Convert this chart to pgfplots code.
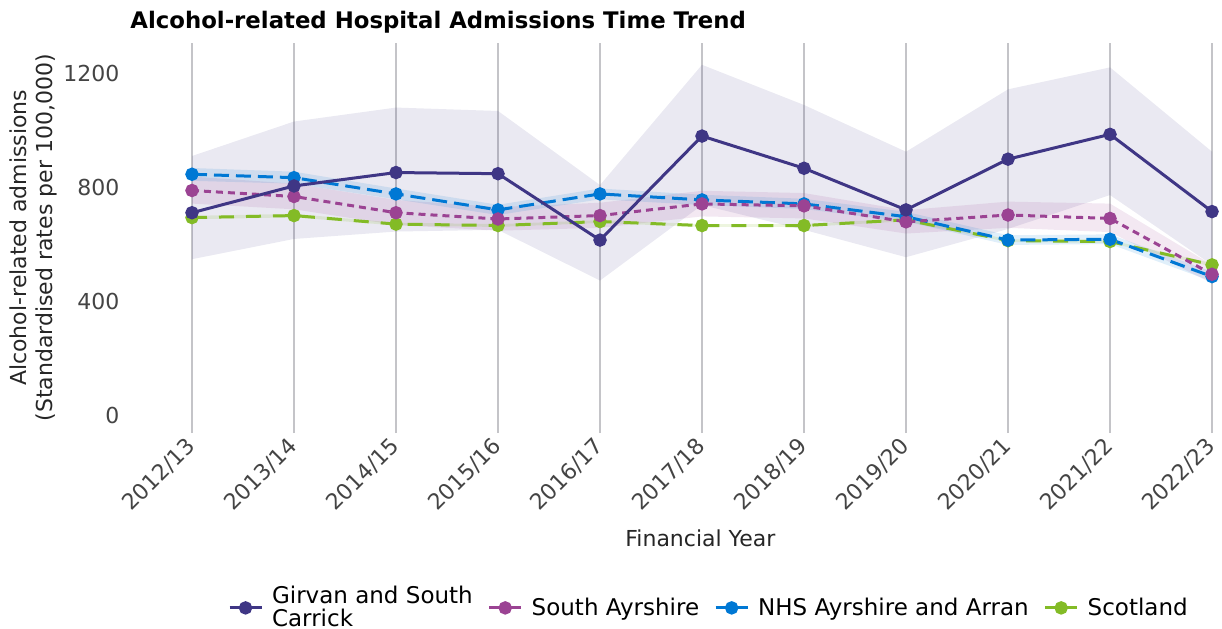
\documentclass[border=0pt]{standalone}
\usepackage{pgfplots}
\pgfplotsset{compat=1.18}
\usepackage{pgfplotstable}
\usepgfplotslibrary{fillbetween}
\usepackage{fontspec}
\setmainfont{DejaVu Sans}

\definecolor{girvan}{HTML}{3F3685}
\definecolor{southayr}{HTML}{9B4393}
\definecolor{nhsaa}{HTML}{0078D4}
\definecolor{scot}{HTML}{83BB26}
\definecolor{gridgrey}{HTML}{C4C4C8}
\definecolor{ticktext}{HTML}{444444}

% x = financial year index (0 = 2012/13), value, lower CI, upper CI
\pgfplotstableread{
x  g   glo  ghi   s   slo  shi  n   nlo  nhi  c   clo  chi
0  713 550  912   791 745  840  848 825  870  696 690  702
1  807 621  1033  770 725  815  836 815  857  703 697  709
2  854 647  1082  713 670  758  779 760  798  673 668  678
3  850 653  1070  691 650  733  723 705  741  668 663  673
4  617 475  810   703 660  748  779 760  798  682 677  687
5  982 740  1232  744 700  790  758 740  776  668 663  673
6  869 653  1091  737 693  782  744 726  762  668 663  673
7  723 557  927   681 640  722  699 682  716  688 683  693
8  901 656  1146  705 660  752  617 600  634  615 610  620
9  988 775  1223  693 645  745  620 603  637  612 607  617
10 717 530  927   497 465  530  489 472  506  530 524  536
}\admissions

\pgfplotsset{
  series/.style={line width=1.5pt, mark=*, mark size=2.6pt, mark options={solid}},
  band/.style={draw=none, mark=none, forget plot},
}

\begin{document}
\begin{tikzpicture}
\begin{axis}[
    at={(80.7pt,97.5pt)}, anchor=south west,
    scale only axis, width=529.4pt, height=195.2pt,
    xmin=-0.3, xmax=10.08, ymin=-60, ymax=1310,
    axis line style={draw=none},
    major tick length=0pt,
    xtick={0,...,10},
    xticklabels={2012/13,2013/14,2014/15,2015/16,2016/17,2017/18,2018/19,2019/20,2020/21,2021/22,2022/23},
    ytick={0,400,800,1200},
    xmajorgrids,
    grid style={color=gridgrey, line width=0.9pt},
    /pgf/number format/assume math mode=true,
    /pgf/number format/1000 sep={},
    tick label style={font=\fontsize{11}{13}\selectfont, text=ticktext},
    yticklabel style={anchor=east, xshift=-17.5pt},
    xticklabel style={rotate=45, anchor=east, yshift=-3pt},
    xlabel={Financial Year},
    xlabel style={at={(axis description cs:0.509,-0.269)}, anchor=center,
        font=\fontsize{11}{13}\selectfont, text=black!85},
    ylabel={Alcohol-related admissions\\(Standardised rates per 100,000)},
    ylabel style={at={(axis description cs:-0.121,0.5)}, anchor=center, align=center,
        font=\fontsize{11}{13}\selectfont, text=black!85},
    legend columns=4,
    reverse legend,
    legend style={at={(axis description cs:0.518,-0.448)}, anchor=center,
        draw=none, fill=none, font=\fontsize{11.5}{11.5}\selectfont,
        cells={anchor=west, align=left},
        /tikz/every odd column/.append style={column sep=2.5pt},
        /tikz/every even column/.append style={column sep=5.5pt}},
    legend image code/.code={
        \draw[solid, mark repeat=2, mark phase=2]
            plot coordinates {(0pt,0pt) (8pt,0pt) (16pt,0pt)};},
]

% confidence bands
\addplot[band, name path=glo] table[x=x, y=glo] {\admissions};
\addplot[band, name path=ghi] table[x=x, y=ghi] {\admissions};
\addplot[fill=girvan, fill opacity=0.11, draw=none, forget plot] fill between[of=glo and ghi];

\addplot[band, name path=slo] table[x=x, y=slo] {\admissions};
\addplot[band, name path=shi] table[x=x, y=shi] {\admissions};
\addplot[fill=southayr, fill opacity=0.12, draw=none, forget plot] fill between[of=slo and shi];

\addplot[band, name path=nlo] table[x=x, y=nlo] {\admissions};
\addplot[band, name path=nhi] table[x=x, y=nhi] {\admissions};
\addplot[fill=nhsaa, fill opacity=0.12, draw=none, forget plot] fill between[of=nlo and nhi];

\addplot[band, name path=clo] table[x=x, y=clo] {\admissions};
\addplot[band, name path=chi] table[x=x, y=chi] {\admissions};
\addplot[fill=scot, fill opacity=0.15, draw=none, forget plot] fill between[of=clo and chi];

% series (drawn Scotland first so Girvan lies on top)
\addplot[series, scot, dash pattern=on 7.5pt off 6pt] table[x=x, y=c] {\admissions};
\addlegendentry{Scotland}
\addplot[series, nhsaa, dash pattern=on 7.5pt off 3.5pt] table[x=x, y=n] {\admissions};
\addlegendentry{NHS Ayrshire and Arran}
\addplot[series, southayr, dash pattern=on 3.5pt off 2.5pt] table[x=x, y=s] {\admissions};
\addlegendentry{South Ayrshire}
\addplot[series, girvan] table[x=x, y=g] {\admissions};
\addlegendentry{Girvan and South\\Carrick}
\end{axis}
\node[anchor=west, inner sep=0pt, font=\bfseries\fontsize{11.4}{13}\selectfont]
    at (65pt,303pt) {Alcohol-related Hospital Admissions Time Trend};
\pgfresetboundingbox
\useasboundingbox (0,0) rectangle (611pt,314pt);
\end{tikzpicture}
\end{document}
